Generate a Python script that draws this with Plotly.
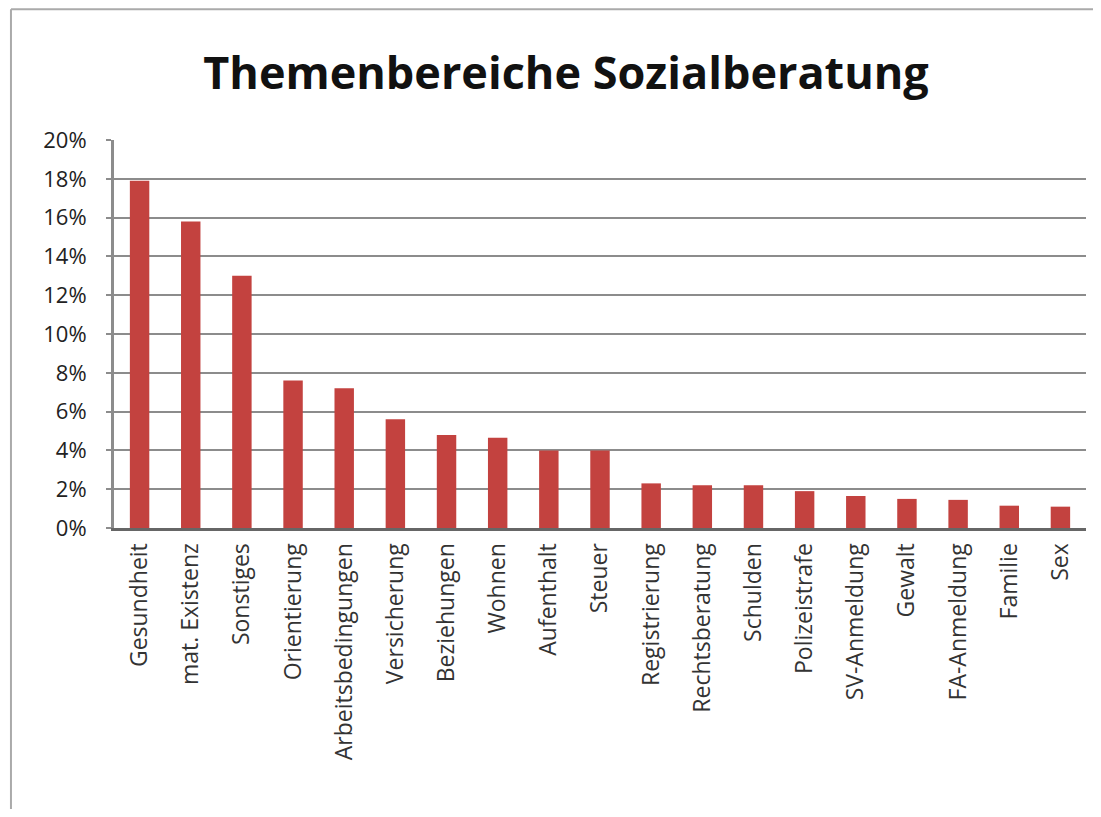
import plotly.graph_objects as go

categories = ["Gesundheit", "mat. Existenz", "Sonstiges", "Orientierung", "Arbeitsbedingungen",
              "Versicherung", "Beziehungen", "Wohnen", "Aufenthalt", "Steuer", "Registrierung",
              "Rechtsberatung", "Schulden", "Polizeistrafe", "SV-Anmeldung", "Gewalt",
              "FA-Anmeldung", "Familie", "Sex"]
shares = [0.179, 0.158, 0.130, 0.076, 0.072, 0.056, 0.048, 0.0465, 0.040, 0.040, 0.023,
          0.022, 0.022, 0.019, 0.0165, 0.015, 0.0145, 0.0115, 0.011]
y_ticks = [0, 0.02, 0.04, 0.06, 0.08, 0.10, 0.12, 0.14, 0.16, 0.18, 0.20]
title_text = "Themenbereiche Sozialberatung"

fig = go.Figure(go.Bar(x=categories, y=shares, marker=dict(color="#C3423F", line=dict(width=0)),
                       width=0.38))

border = dict(color="#AAAAAA", width=2)
fig.update_layout(
    width=1085, height=801,
    paper_bgcolor="white", plot_bgcolor="white",
    margin=dict(l=106, r=7, t=132, b=281, autoexpand=False),
    showlegend=False,
    title=dict(text="<b>" + title_text + "</b>", x=0.5143, xanchor="center", y=0.918, yanchor="middle",
               font=dict(family="Open Sans", size=45, color="#111111")),
    font=dict(family="Open Sans", color="#333333"),
    shapes=[
        dict(type="line", xref="paper", yref="paper", x0=-0.106, x1=1.2, y0=1.337, y1=1.337,
             line=border, layer="below"),
        dict(type="line", xref="paper", yref="paper", x0=-0.106, x1=-0.106, y0=-0.9, y1=1.337,
             line=border, layer="below"),
    ],
)

fig.update_xaxes(tickangle=-90, tickfont=dict(family="Open Sans", size=23, color="#333333"),
                 showline=True, linecolor="#666666", linewidth=3, showgrid=False,
                 ticks="", ticklabelstandoff=3, automargin=False)
fig.update_yaxes(range=[0, 0.20], tickvals=y_ticks, tickformat=".0%",
                 tickfont=dict(family="Open Sans", size=22, color="#222222"),
                 showgrid=True, gridcolor="#8C8C8C", gridwidth=2,
                 showline=True, linecolor="#8C8C8C", linewidth=3,
                 ticks="outside", ticklen=5, tickcolor="#8C8C8C", tickwidth=2,
                 ticklabelstandoff=15, zeroline=False, automargin=False)

fig.write_html("out.html")
